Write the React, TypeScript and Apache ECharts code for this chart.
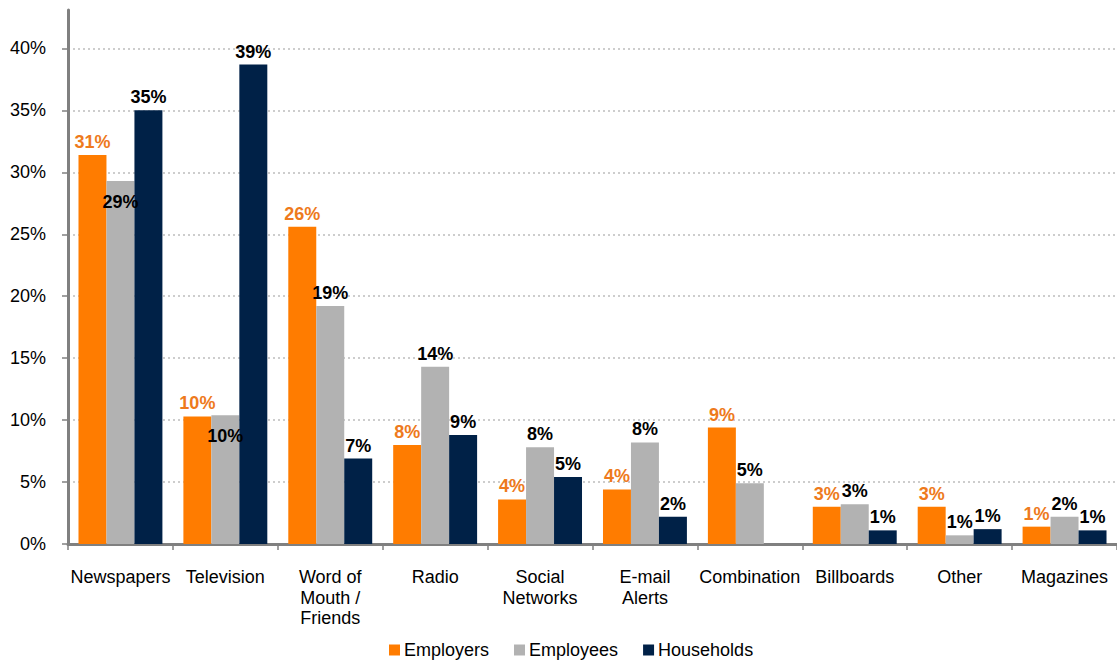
import React, { useEffect, useRef } from "react";
import * as echarts from "echarts";

const categories = [
  "Newspapers",
  "Television",
  "Word of\nMouth /\nFriends",
  "Radio",
  "Social\nNetworks",
  "E-mail\nAlerts",
  "Combination",
  "Billboards",
  "Other",
  "Magazines",
];
const employers = [31.4, 10.3, 25.6, 8.0, 3.6, 4.4, 9.4, 3.0, 3.0, 1.4];
const employees = [29.3, 10.4, 19.2, 14.3, 7.8, 8.2, 4.9, 3.2, 0.7, 2.2];
const households = [35.0, 38.7, 6.9, 8.8, 5.4, 2.2, null, 1.1, 1.2, 1.1];
// indices whose Employees label sits inside the bar
const employeesInside = [0, 1];

const FONT = "'Liberation Sans', Arial, sans-serif";

export default function App() {
  const ref = useRef<HTMLDivElement>(null);
  useEffect(() => {
    if (!ref.current) return;
    const chart = echarts.init(ref.current, null, { renderer: "svg" });
    const labelBase = {
      show: true,
      position: "top" as const,
      distance: 4,
      fontFamily: FONT,
      fontSize: 18,
      fontWeight: "bold" as const,
      color: "#000",
      formatter: (p: any) => Math.round(p.value) + "%",
    };
    chart.setOption({
      animation: false,
      textStyle: { fontFamily: FONT },
      grid: { left: 68, right: 0, top: 10, bottom: 118, containLabel: false },
      legend: {
        left: 389,
        top: 641,
        padding: 0,
        itemWidth: 11,
        itemHeight: 11,
        itemGap: 25,
        icon: "rect",
        textStyle: { fontSize: 18, fontFamily: FONT, color: "#000", padding: [0, 0, 0, -1] },
        data: ["Employers", "Employees", "Households"],
      },
      xAxis: {
        type: "category",
        data: categories,
        axisLine: { lineStyle: { color: "#808080", width: 3 } },
        axisTick: { show: true, length: 6, lineStyle: { color: "#808080", width: 1.5 } },
        axisLabel: {
          fontSize: 18,
          fontFamily: FONT,
          color: "#000",
          margin: 23,
          lineHeight: 20.5,
          interval: 0,
        },
      },
      yAxis: {
        type: "value",
        min: 0,
        max: 43.1,
        interval: 5,
        axisLine: { show: true, lineStyle: { color: "#808080", width: 3 } },
        axisTick: { show: true, length: 6, lineStyle: { color: "#808080", width: 1.5 } },
        axisLabel: {
          fontSize: 18,
          fontFamily: FONT,
          color: "#000",
          margin: 22,
          showMaxLabel: false,
          formatter: (v: number) => (v % 5 === 0 ? v + "%" : ""),
        },
        splitLine: {
          show: true,
          showMaxLine: false,
          lineStyle: { color: "#BDBDBD", width: 1.5, type: [2, 3] },
        },
      },
      series: [
        {
          name: "Employers",
          type: "bar",
          data: employers,
          barGap: "0%",
          barCategoryGap: "20%",
          itemStyle: { color: "#FF7C00" },
          label: { ...labelBase, color: "#EE7A1C" },
        },
        {
          name: "Employees",
          type: "bar",
          data: employees.map((v, i) =>
            employeesInside.includes(i)
              ? { value: v, label: { position: "insideTop", distance: 12 } }
              : v
          ),
          barGap: "0%",
          barCategoryGap: "20%",
          itemStyle: { color: "#B2B2B2" },
          label: labelBase,
        },
        {
          name: "Households",
          type: "bar",
          data: households,
          barGap: "0%",
          barCategoryGap: "20%",
          itemStyle: { color: "#002147" },
          label: labelBase,
        },
      ],
    });
    return () => chart.dispose();
  }, []);
  return <div ref={ref} style={{ width: 1117, height: 662, position: "absolute", left: 0, top: 0 }} />;
}
